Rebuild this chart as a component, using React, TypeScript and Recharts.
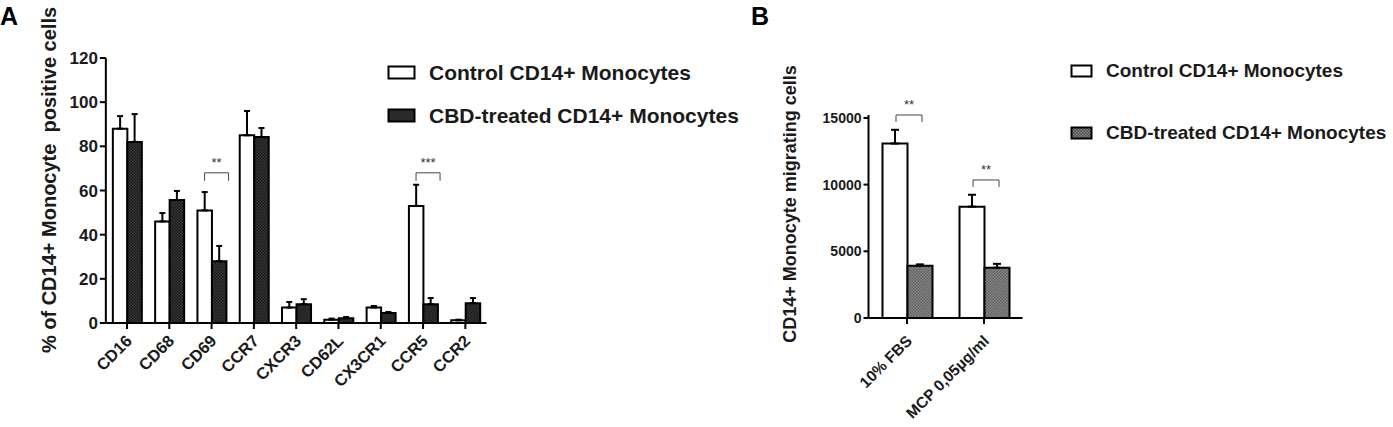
import React from 'react'
import { ComposedChart, Bar, XAxis, YAxis, ErrorBar, Scatter } from 'recharts'

// panel A: surface markers
const markersA = ['CD16', 'CD68', 'CD69', 'CCR7', 'CXCR3', 'CD62L', 'CX3CR1', 'CCR5', 'CCR2']
const controlA = [88, 46, 51, 85, 7, 1.5, 7, 53, 1.2]
const controlErrA = [5.7, 3.8, 8.3, 11, 2.5, 0.5, 0.7, 9.6, 0.3]
const cbdA = [82, 55.7, 28, 84.2, 8.5, 2.2, 4.5, 8.5, 9]
const cbdErrA = [12.6, 4.1, 6.9, 4.1, 2.3, 0.5, 0.5, 2.8, 2.3]
const sigA = ['', '', '**', '', '', '', '', '***', '']
const sigLevelA = [null, null, 68, null, null, null, null, 68, null]
const ticksA = [0, 20, 40, 60, 80, 100, 120]

// panel B: migration
const conditionsB = ['10% FBS', 'MCP 0,05µg/ml']
const controlB = [13080, 8350]
const controlErrB = [1030, 890]
const cbdB = [3920, 3770]
const cbdErrB = [100, 290]
const sigB = ['**', '**']
const sigLevelB = [15220, 10350]
const ticksB = [0, 5000, 10000, 15000]

const CONTROL_NAME = 'Control CD14+ Monocytes'
const CBD_NAME = 'CBD-treated CD14+ Monocytes'
const FONT = '"Liberation Sans", Arial, Helvetica, sans-serif'
const INK = '#1a1a1a'

const dataA = markersA.map((name, i) => ({
  name,
  control: controlA[i],
  controlErr: [0, controlErrA[i]],
  cbd: cbdA[i],
  cbdErr: [0, cbdErrA[i]],
  sig: sigA[i],
  sigLevel: sigLevelA[i],
}))

const dataB = conditionsB.map((name, i) => ({
  name,
  control: controlB[i],
  controlErr: [0, controlErrB[i]],
  cbd: cbdB[i],
  cbdErr: [0, cbdErrB[i]],
  sig: sigB[i],
  sigLevel: sigLevelB[i],
}))

const makeTick = (fontSize: number, dx: number, dy: number) => (props: any) => {
  const { x, y, payload } = props
  return (
    <g transform={`translate(${x + dx},${y + dy})`}>
      <text
        transform="rotate(-45)"
        textAnchor="end"
        fontSize={fontSize}
        fontWeight="bold"
        fontFamily={FONT}
        fill={INK}
      >
        {payload.value}
      </text>
    </g>
  )
}

const makeBracket = (left: number, right: number, leg: number, textDy: number) => (props: any) => {
  const { cx, cy, payload } = props
  if (!payload || !payload.sig || cy == null || isNaN(cy)) return <g />
  const mid = cx + (right - left) / 2
  return (
    <g>
      <path
        d={`M${cx - left},${cy + leg}V${cy}H${cx + right}V${cy + leg}`}
        fill="none"
        stroke="#444"
        strokeWidth={1}
      />
      <text
        x={mid}
        y={cy - textDy}
        textAnchor="middle"
        fontSize={13}
        fontFamily={FONT}
        fill="#333"
      >
        {payload.sig}
      </text>
    </g>
  )
}

const LegendBox = ({
  left, top, boxW, boxH, gap, fontSize, darkFill, hatch,
}: {
  left: number; top: number; boxW: number; boxH: number; gap: number; fontSize: number; darkFill: string; hatch: string
}) => (
  <div style={{ position: 'absolute', left, top, fontFamily: FONT }}>
    {[CONTROL_NAME, CBD_NAME].map((name, i) => (
      <div
        key={name}
        style={{ display: 'flex', alignItems: 'center', height: 24, marginBottom: i === 0 ? gap : 0 }}
      >
        <svg width={boxW + 4} height={boxH + 4} style={{ marginRight: 12 }}>
          <defs>
            <pattern id={`lg-${hatch}`} width="3" height="3" patternUnits="userSpaceOnUse">
              <rect width="3" height="3" fill={darkFill} />
              <rect width="1.5" height="1.5" fill="#111" opacity={0.5} />
              <rect x="1.5" y="1.5" width="1.5" height="1.5" fill="#111" opacity={0.5} />
            </pattern>
          </defs>
          <rect
            x={1.5}
            y={1.5}
            width={boxW}
            height={boxH}
            fill={i === 0 ? '#fff' : `url(#lg-${hatch})`}
            stroke="#000"
            strokeWidth={2}
          />
        </svg>
        <span style={{ fontSize, fontWeight: 'bold', color: INK, whiteSpace: 'nowrap' }}>{name}</span>
      </div>
    ))}
  </div>
)

const axisTick = (fontSize: number) => ({
  fontSize,
  fontWeight: 'bold' as const,
  fontFamily: FONT,
  fill: INK,
})

const App = () => {
  return (
    <div style={{ position: 'absolute', left: 0, top: 0, width: 1393, height: 427, background: '#fff' }}>
      {/* panel A */}
      <div style={{ position: 'absolute', left: 0, top: 0 }}>
        <ComposedChart
          width={760}
          height={427}
          data={dataA}
          margin={{ top: 58, right: 273.5, bottom: 0, left: 0 }}
          barGap={0}
          barSize={14.5}
        >
          <defs>
            <pattern id="hatchA" width="3" height="3" patternUnits="userSpaceOnUse">
              <rect width="3" height="3" fill="#3a3a3a" />
              <rect width="1.5" height="1.5" fill="#151515" />
              <rect x="1.5" y="1.5" width="1.5" height="1.5" fill="#151515" />
            </pattern>
          </defs>
          <XAxis
            dataKey="name"
            interval={0}
            height={104}
            axisLine={{ stroke: '#000', strokeWidth: 2 }}
            tickLine={{ stroke: '#000', strokeWidth: 2 }}
            tickSize={6}
            tick={makeTick(16.5, 6, 11)}
          />
          <YAxis
            domain={[0, 120]}
            ticks={ticksA}
            width={105.85}
            axisLine={{ stroke: '#000', strokeWidth: 2 }}
            tickLine={{ stroke: '#000', strokeWidth: 2 }}
            tickSize={6}
            tickMargin={2}
            tick={axisTick(17)}
          />
          <Bar dataKey="control" name={CONTROL_NAME} fill="#fff" stroke="#000" strokeWidth={2} isAnimationActive={false}>
            <ErrorBar dataKey="controlErr" direction="y" width={3} stroke="#000" strokeWidth={2} />
          </Bar>
          <Bar dataKey="cbd" name={CBD_NAME} fill="url(#hatchA)" stroke="#000" strokeWidth={2} isAnimationActive={false}>
            <ErrorBar dataKey="cbdErr" direction="y" width={3} stroke="#000" strokeWidth={2} />
          </Bar>
          <Scatter dataKey="sigLevel" isAnimationActive={false} shape={makeBracket(7, 17, 8, 6)} legendType="none" />
        </ComposedChart>
      </div>
      <LegendBox left={387} top={61} boxW={26} boxH={12} gap={19} fontSize={21} darkFill="#333" hatch="a" />

      {/* panel B */}
      <div style={{ position: 'absolute', left: 760, top: 0 }}>
        <ComposedChart
          width={633}
          height={427}
          data={dataB}
          margin={{ top: 115, right: 370.5, bottom: 0, left: 0 }}
          barGap={0}
          barSize={25}
        >
          <defs>
            <pattern id="hatchB" width="3" height="3" patternUnits="userSpaceOnUse">
              <rect width="3" height="3" fill="#8a8a8a" />
              <rect width="1.5" height="1.5" fill="#5e5e5e" />
              <rect x="1.5" y="1.5" width="1.5" height="1.5" fill="#5e5e5e" />
            </pattern>
          </defs>
          <XAxis
            dataKey="name"
            interval={0}
            height={109}
            axisLine={{ stroke: '#000', strokeWidth: 2 }}
            tickLine={{ stroke: '#000', strokeWidth: 2 }}
            tickSize={6}
            tick={makeTick(15.5, 6, 16)}
          />
          <YAxis
            domain={[0, 15000]}
            ticks={ticksB}
            width={108.5}
            axisLine={{ stroke: '#000', strokeWidth: 2 }}
            tickLine={{ stroke: '#000', strokeWidth: 2 }}
            tickSize={5}
            tickMargin={2}
            tick={axisTick(14)}
          />
          <Bar dataKey="control" name={CONTROL_NAME} fill="#fff" stroke="#000" strokeWidth={2} isAnimationActive={false}>
            <ErrorBar dataKey="controlErr" direction="y" width={4} stroke="#000" strokeWidth={2} />
          </Bar>
          <Bar dataKey="cbd" name={CBD_NAME} fill="url(#hatchB)" stroke="#000" strokeWidth={2} isAnimationActive={false}>
            <ErrorBar dataKey="cbdErr" direction="y" width={4} stroke="#000" strokeWidth={2} />
          </Bar>
          <Scatter dataKey="sigLevel" isAnimationActive={false} shape={makeBracket(11, 15, 7, 6)} legendType="none" />
        </ComposedChart>
      </div>
      <LegendBox left={1070} top={59} boxW={20} boxH={11} gap={38} fontSize={19} darkFill="#858585" hatch="b" />

      {/* panel letters and axis titles */}
      <div style={{ position: 'absolute', left: 0, top: 2, fontFamily: FONT, fontWeight: 'bold', fontSize: 25, color: '#000' }}>A</div>
      <div style={{ position: 'absolute', left: 751, top: 2, fontFamily: FONT, fontWeight: 'bold', fontSize: 25, color: '#000' }}>B</div>
      <div
        style={{
          position: 'absolute',
          left: 49,
          top: 180,
          transform: 'translate(-50%, -50%) rotate(-90deg)',
          whiteSpace: 'pre',
          fontFamily: FONT,
          fontWeight: 'bold',
          fontSize: 20,
          color: INK,
        }}
      >
        {'% of CD14+ Monocyte  positive cells'}
      </div>
      <div
        style={{
          position: 'absolute',
          left: 790,
          top: 204,
          transform: 'translate(-50%, -50%) rotate(-90deg)',
          whiteSpace: 'nowrap',
          fontFamily: FONT,
          fontWeight: 'bold',
          fontSize: 18,
          color: INK,
        }}
      >
        CD14+ Monocyte migrating cells
      </div>
    </div>
  )
}

export default App
